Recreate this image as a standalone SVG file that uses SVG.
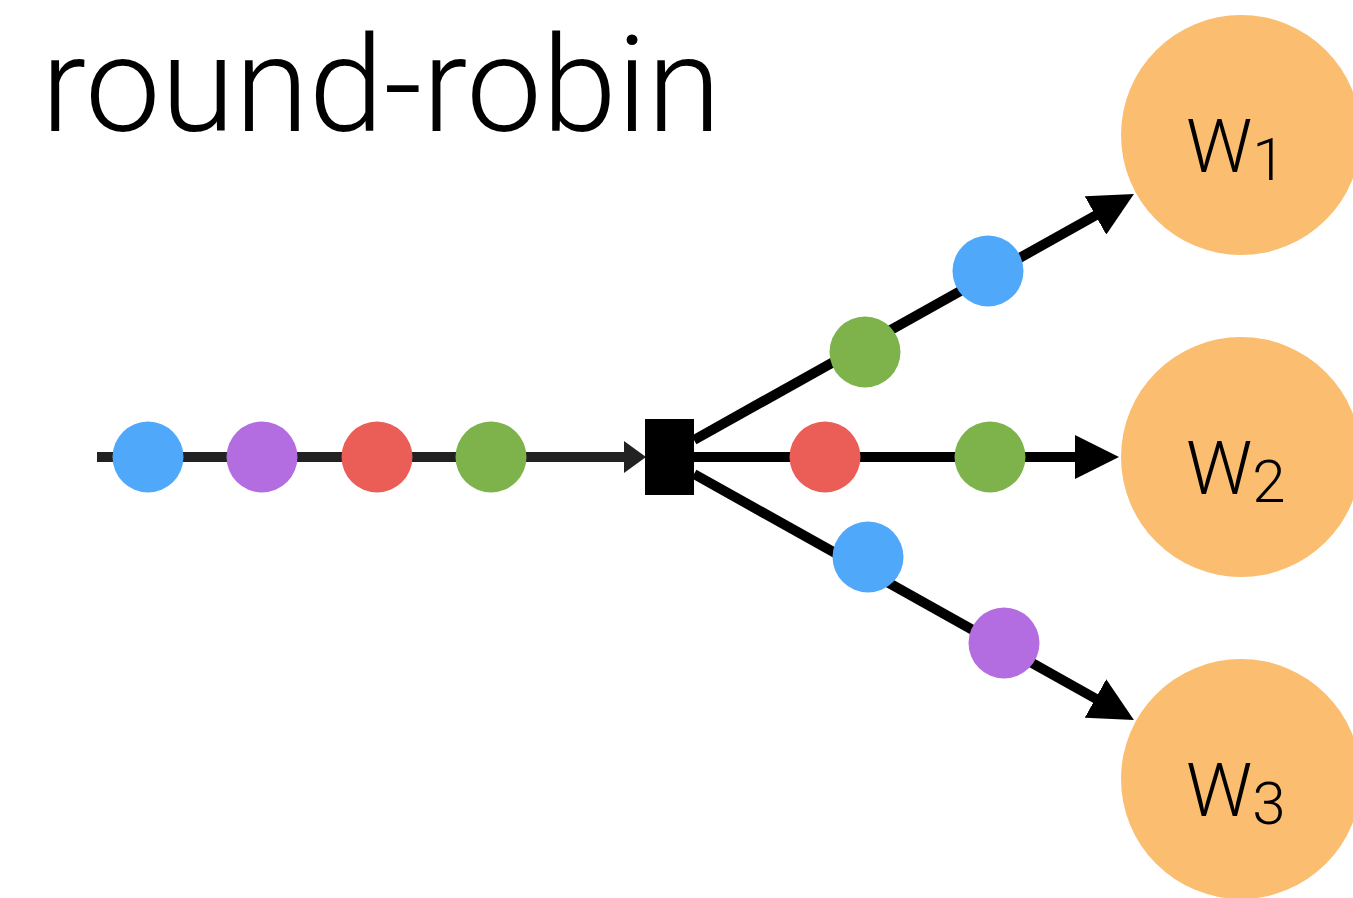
<svg xmlns="http://www.w3.org/2000/svg" width="1353" height="898" viewBox="0 0 1353 898">
  <style>
    .title { font-family: Roboto, "Liberation Sans", Arial, sans-serif; font-weight: 300; font-size: 134px; fill: #000; }
    .wlabel { font-family: Roboto, "Liberation Sans", Arial, sans-serif; font-weight: 300; font-size: 74px; fill: #000; }
    .wsub { font-size: 60px; }
    .worker { fill: #FBBD6F; }
    .edge { stroke: #000; stroke-width: 10; fill: none; }
    .input { stroke: #222; stroke-width: 10; fill: none; }
    .blue { fill: #50A8FA; }
    .purple { fill: #B36DE1; }
    .red { fill: #EB5E57; }
    .green { fill: #7EB34B; }
  </style>
  <defs>
    <marker id="arrow" markerUnits="userSpaceOnUse" markerWidth="44" markerHeight="44" viewBox="0 0 44 44" refX="4" refY="22" orient="auto">
      <path d="M0,0 L44,22 L0,44 Z" fill="#000"/>
    </marker>
    <marker id="arrow-in" markerUnits="userSpaceOnUse" markerWidth="22" markerHeight="32" viewBox="0 0 22 32" refX="2" refY="16" orient="auto">
      <path d="M0,0 L22,16 L0,32 Z" fill="#222"/>
    </marker>
  </defs>

  <text class="title" x="41" y="131" textLength="680" lengthAdjust="spacingAndGlyphs">round-robin</text>

  <!-- connectors -->
  <g id="connectors">
    <line class="input" x1="97" y1="457" x2="626" y2="457" marker-end="url(#arrow-in)"/>
    <line class="edge" x1="694" y1="440" x2="1099" y2="213.5" marker-end="url(#arrow)"/>
    <line class="edge" x1="694" y1="457" x2="1079" y2="457" marker-end="url(#arrow)"/>
    <line class="edge" x1="694" y1="474" x2="1099" y2="700.5" marker-end="url(#arrow)"/>
  </g>

  <!-- dispatcher -->
  <g id="dispatcher">
    <rect x="645" y="419" width="49" height="76" fill="#000"/>
  </g>

  <!-- queued tasks -->
  <g id="tasks">
    <circle class="blue" cx="148" cy="457" r="35.5"/>
    <circle class="purple" cx="262" cy="457" r="35.5"/>
    <circle class="red" cx="377" cy="457" r="35.5"/>
    <circle class="green" cx="491" cy="457" r="35.5"/>
    <circle class="green" cx="865" cy="352" r="35.5"/>
    <circle class="blue" cx="988" cy="271" r="35.5"/>
    <circle class="red" cx="825" cy="457" r="35.5"/>
    <circle class="green" cx="990" cy="457" r="35.5"/>
    <circle class="blue" cx="868" cy="557" r="35.5"/>
    <circle class="purple" cx="1004" cy="643" r="35.5"/>
  </g>

  <!-- workers -->
  <g id="w1">
    <circle class="worker" cx="1241" cy="135" r="120"/>
    <text class="wlabel" x="1186" y="172">W<tspan class="wsub" dy="8">1</tspan></text>
  </g>
  <g id="w2">
    <circle class="worker" cx="1241" cy="457" r="120"/>
    <text class="wlabel" x="1186" y="494">W<tspan class="wsub" dy="8">2</tspan></text>
  </g>
  <g id="w3">
    <circle class="worker" cx="1241" cy="779" r="120"/>
    <text class="wlabel" x="1186" y="816">W<tspan class="wsub" dy="8">3</tspan></text>
  </g>
</svg>
